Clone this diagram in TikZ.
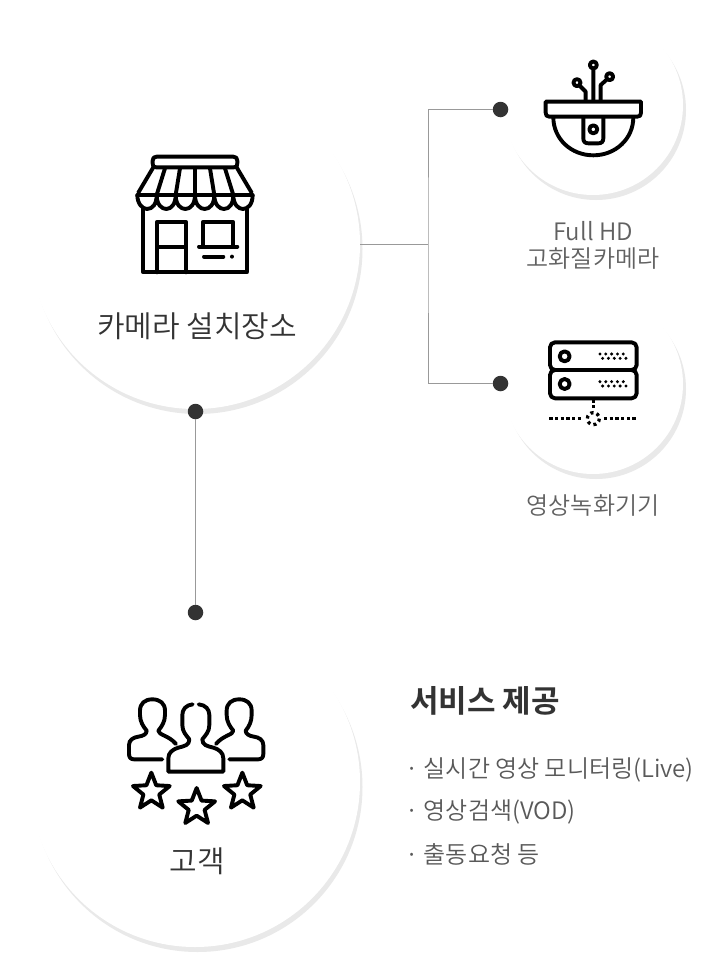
\documentclass[tikz,border=0pt]{standalone}
\usepackage{fontspec}
\newfontfamily\kr{Noto Sans CJK KR DemiLight}
\newfontfamily\krb{Noto Sans CJK KR Bold}
\usetikzlibrary{calc}
\definecolor{dotc}{HTML}{333333}
\definecolor{shade}{HTML}{E9E9E9}
\definecolor{linec}{HTML}{999999}
\tikzset{
 shadow disc/.style={circle,fill=shade,inner sep=0pt,minimum size=#1},
 white disc/.style={circle,fill=white,inner sep=0pt,minimum size=#1},
 dotnode/.style={circle,fill=dotc,inner sep=0pt,minimum size=15.5pt},
 conn/.style={draw=linec,line width=0.8pt},
 icon/.style={line width=3.9pt,line join=round,line cap=round,draw=black},
 big label/.style={font=\kr\fontsize{30}{34}\selectfont,text=dotc,inner sep=0pt},
 small label/.style={font=\kr\fontsize{24}{27}\selectfont,text=black!62,inner sep=0pt,align=center},
 list label/.style={font=\kr\fontsize{24}{27}\selectfont,text=black!65,inner sep=0pt,anchor=west},
 title label/.style={font=\krb\fontsize{31}{34}\selectfont,text=dotc,inner sep=0pt,anchor=west}
}
\begin{document}
\begin{tikzpicture}[x=1pt,y=-1pt]
\useasboundingbox (0,0) rectangle (720,977);
\fill[white] (0,0) rectangle (720,977);
% discs
\node[shadow disc=330pt] (s1) at (197.5,249) {};
\node[white disc=330pt] (c1) at (195,244) {};
\node[shadow disc=180pt] (s2) at (596,110) {};
\node[white disc=180pt] (c2) at (593,105) {};
\node[shadow disc=180pt] (s3) at (596,389) {};
\node[white disc=180pt] (c3) at (593,384) {};
\node[shadow disc=330pt] (s4) at (197.5,787) {};
\node[white disc=330pt] (c4) at (195,782) {};
% connectors
\coordinate (j) at (428,244);
\node[dotnode] (d1) at (500.5,109.5) {};
\node[dotnode] (d2) at (500.5,383.5) {};
\node[dotnode] (d3) at (195.5,411.5) {};
\node[dotnode] (d4) at (195.5,612.5) {};
\draw[conn] (c1.east) -- (j);
\draw[conn] (d1.west) -| (j) |- (d2.west);
\draw[conn] (d3) -- (d4);
% store icon
\begin{scope}[shift={(30,80)},x=0.3333pt,y=-0.3333pt]
 \draw[icon] (378,262) -- (612,262) .. controls (620,262) and (622,258) .. (622,250) -- (622,242) .. controls (622,234) and (618,230) .. (610,230) -- (380,230) .. controls (372,230) and (368,234) .. (368,242) -- (368,250) .. controls (368,258) and (370,262) .. (378,262);
 \draw[icon] (370,262) -- (325,338) (620,262) -- (665,338);
 \draw[icon] (322,345) -- (668,345);
 \draw[icon] (322,345) .. controls (322,372) and (338,387) .. (351,387) .. controls (368,387) and (380,372) .. (380,345) .. controls (380,375) and (396,387) .. (409,387) .. controls (424,387) and (437,372) .. (437,345) .. controls (437,375) and (453,387) .. (466,387) .. controls (482,387) and (495,372) .. (495,345) .. controls (495,375) and (511,387) .. (524,387) .. controls (540,387) and (553,372) .. (553,345) .. controls (553,375) and (569,387) .. (582,387) .. controls (598,387) and (610,372) .. (610,345) .. controls (610,375) and (626,387) .. (639,387) .. controls (655,387) and (668,372) .. (668,345);
 \draw[icon] (405,265) -- (380,345) (450,265) -- (437,345) (495,265) -- (495,345) (540,265) -- (553,345) (585,265) -- (610,345);
 \draw[icon] (340,385) -- (340,577) -- (650,577) -- (650,385);
 \draw[icon] (382,577) -- (382,425) -- (467,425) -- (467,577) (382,500) -- (467,500);
 \draw[icon] (520,497) -- (520,425) -- (608,425) -- (608,497) (507,500) -- (622,500) (522,530) -- (580,530);
 \fill (606,530) circle (6);
\end{scope}
% camera icon
\begin{scope}[shift={(490,30)},x=0.3333pt,y=-0.3333pt]
 \draw[icon] (167,215) -- (453,215) -- (453,248) .. controls (453,256) and (450,260) .. (442,260) -- (178,260) .. controls (170,260) and (167,256) .. (167,248) -- cycle;
 \draw[icon] (190,262) .. controls (190,326) and (243,376) .. (310,376) .. controls (377,376) and (430,326) .. (430,262);
 \draw[icon] (280,262) -- (280,325) .. controls (280,335) and (285,340) .. (295,340) -- (325,340) .. controls (335,340) and (340,335) .. (340,325) -- (340,262);
 \draw[icon] (310,298) circle (12);
 \draw[icon] (310,105) circle (10.5) (261,158) circle (10.5) (359,140) circle (10.5);
 \draw[icon] (310,118) -- (310,213) (270,168) -- (287,185) -- (287,213) (349,150) -- (332,165) -- (332,213);
\end{scope}
% server icon
\begin{scope}[shift={(490,310)},x=0.3333pt,y=-0.3333pt]
 \draw[icon,rounded corners=5pt] (180,97) rectangle (440,180);
 \draw[icon,rounded corners=5pt] (180,180) rectangle (440,265);
 \draw[icon] (224,139) circle (15) (224,222) circle (15);
 \foreach \yy in {0,83}{
  \foreach \xx in {0,1,2,3,4}{
   \fill (330+17.5*\xx,132+\yy) circle (5);
   \fill (338+17.5*\xx,145+\yy) circle (5);
  }
 }
 \draw[line width=3.5pt,draw=black,dash pattern=on 3.3pt off 2.4pt] (178,326) -- (280,326) (342,326) -- (444,326) (310,268) -- (310,302);
 \draw[line width=3.3pt,draw=black,dash pattern=on 3pt off 3.3pt] (310,326) circle (18);
\end{scope}
% customers icon
\begin{scope}[shift={(110,680)},x=0.3333pt,y=-0.3333pt]
 \draw[icon] (157,238) -- (72,238) .. controls (62,238) and (57,232) .. (57,222) -- (57,195) .. controls (57,180) and (70,172) .. (85,170) .. controls (100,168) and (110,162) .. (110,152) .. controls (100,140) and (90,125) .. (90,105) -- (90,92) .. controls (90,70) and (105,58) .. (127,58) .. controls (150,58) and (165,70) .. (165,92) -- (165,105) .. controls (165,125) and (155,140) .. (145,152) .. controls (145,165) and (175,165) .. (198,192);
 \draw[icon] (358,238) -- (445,238) .. controls (455,238) and (460,232) .. (460,222) -- (460,195) .. controls (460,180) and (447,172) .. (432,170) .. controls (417,168) and (407,162) .. (407,152) .. controls (417,140) and (425,125) .. (425,105) -- (425,92) .. controls (425,70) and (410,58) .. (388,58) .. controls (365,58) and (350,70) .. (350,92) -- (350,105) .. controls (350,125) and (360,140) .. (370,152) .. controls (370,165) and (340,165) .. (318,192);
 \draw[icon] (248,73) .. controls (228,75) and (217,88) .. (217,105) -- (217,135) .. controls (217,155) and (228,165) .. (238,178) .. controls (238,195) and (225,198) .. (205,203) .. controls (188,208) and (175,218) .. (175,235) -- (175,275) -- (340,275) -- (340,235) .. controls (340,218) and (327,208) .. (310,203) .. controls (290,198) and (277,195) .. (277,178) .. controls (287,165) and (298,155) .. (298,135) -- (298,105) .. controls (298,88) and (287,75) .. (266,73);
 \foreach \cx/\cy in {124/336,260/382,397/336}{
  \draw[icon] ($(\cx,\cy)+(-90:58)$) -- ($(\cx,\cy)+(-54:25)$) -- ($(\cx,\cy)+(-18:58)$) -- ($(\cx,\cy)+(18:25)$) -- ($(\cx,\cy)+(54:58)$) -- ($(\cx,\cy)+(90:25)$) -- ($(\cx,\cy)+(126:58)$) -- ($(\cx,\cy)+(162:25)$) -- ($(\cx,\cy)+(198:58)$) -- ($(\cx,\cy)+(234:25)$) -- cycle;
 }
\end{scope}
% text
\node[big label] (t1) at (197,326) {카메라 설치장소};
\node[small label] (t2) at (593,245) {Full HD\\고화질카메라};
\node[small label] (t3) at (593,506) {영상녹화기기};
\node[big label] (t4) at (197,861.5) {고객};
\node[title label] (t5) at (410,701) {서비스 제공};
\node[list label] (l1) at (405,770) {· 실시간 영상 모니터링(Live)};
\node[list label] (l2) at (405,812) {· 영상검색(VOD)};
\node[list label] (l3) at (405,854) {· 출동요청 등};
\end{tikzpicture}
\end{document}
